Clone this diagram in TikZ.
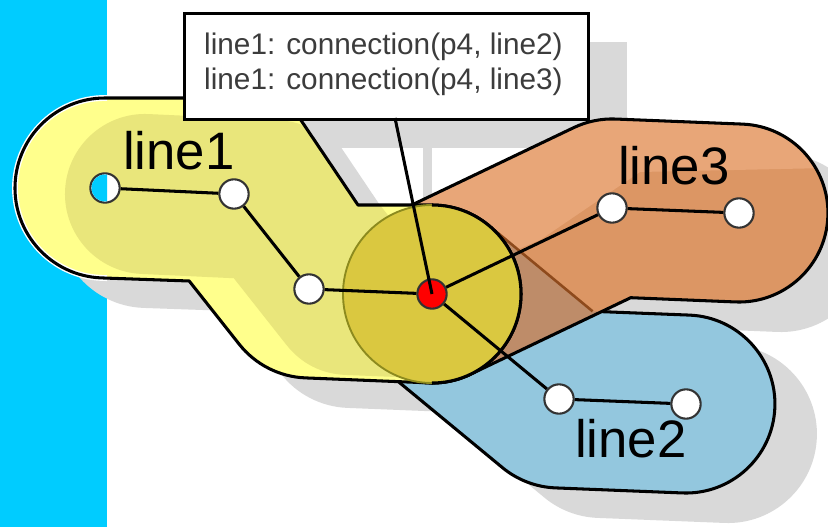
\documentclass[tikz,border=0pt]{standalone}
\usepackage{fontspec}
\setmainfont{Liberation Sans}
\definecolor{cyanbg}{HTML}{00CCFF}
\definecolor{shadowgray}{HTML}{D9D9D9}
\definecolor{ylight}{HTML}{FFFF8C}
\definecolor{ydark}{HTML}{E9E67B}
\definecolor{olivefill}{HTML}{DAC840}
\definecolor{oliveline}{HTML}{8C8A1E}
\definecolor{orangefill}{HTML}{DC9664}
\definecolor{orangelight}{HTML}{E8A678}
\definecolor{overlapbrown}{HTML}{BE8C69}
\definecolor{edgebrown}{HTML}{8E4A1C}
\definecolor{bluefill}{HTML}{93C7DE}
\definecolor{boxtext}{HTML}{3C3C3C}
\def\YelPath{(105,98) -- (286,98) -- (358,205) -- (432,205) arc[start angle=-90,end angle=90,radius=89] -- (305.4,377.9) arc[start angle=92.3,end angle=141.7,radius=89] -- (189.2,281) -- (100.9,277.9) arc[start angle=92.6,end angle=270,radius=90] -- cycle}
\def\OrgPath{(393.6,213.7) -- (573.6,127.7) arc[start angle=244.4,end angle=272.3,radius=89] -- (742.5,124.1) arc[start angle=-87.7,end angle=92.3,radius=89] -- (630.7,297.7) -- (470.4,374.3) arc[start angle=64.4,end angle=244.4,radius=89] -- cycle}
\def\BluPath{(488.7,225.4) -- (592.6,311.3) -- (689.5,315.1) arc[start angle=-87.7,end angle=92.3,radius=89] -- (555.5,487.9) arc[start angle=92.3,end angle=129.6,radius=89] -- (375.3,362.6) arc[start angle=129.6,end angle=309.6,radius=89] -- cycle}
\begin{document}
\begin{tikzpicture}[x=0.3mm,y=-0.3mm,
  outl/.style={draw=black,line width=2.6pt,line join=round},
  conn/.style={draw=black,line width=2.6pt},
  pt/.style={circle,draw=black!80,line width=1.8pt,fill=white,minimum size=8.8mm,inner sep=0pt},
  redpt/.style={pt,fill=red},
  lbl/.style={font=\fontsize{45}{54}\selectfont,text=black,inner sep=0pt,anchor=base west},
  boxtxt/.style={font=\fontsize{25.4}{30}\selectfont,text=boxtext,inner sep=0pt,anchor=base west},
  callout/.style={draw=black,line width=2.6pt,fill=white,minimum width=121.2mm,minimum height=31.8mm,inner sep=0pt,anchor=north west}]
\useasboundingbox (0,0) rectangle (828,527);
\fill[white] (0,0) rectangle (828,527);
\fill[cyanbg] (0,0) rectangle (107,527);
% shadows
\fill[shadowgray] (223,42) rectangle (627,148);
\fill[shadowgray] (423,146) rectangle (432,215);
\begin{scope}[shift={(42,30)}]
  \fill[shadowgray] \YelPath;
  \fill[shadowgray] \OrgPath;
  \fill[shadowgray] \BluPath;
\end{scope}
% blue buffer (line2)
\fill[bluefill] \BluPath;
\draw[outl] \BluPath;
% orange buffer (line3)
\fill[orangefill] \OrgPath;
\begin{scope}
  \clip \OrgPath;
  \fill[orangelight] (380,200) -- (600,100) -- (828,110) -- (828,168) -- (640,172) -- (540,240) -- (420,290) -- cycle;
  \fill[overlapbrown] \BluPath;
  \draw[edgebrown,line width=2.2pt] (488.7,225.4) -- (592.6,311.3);
\end{scope}
\draw[outl] \OrgPath;
% yellow buffer (line1)
\fill[ylight] \YelPath;
\begin{scope}
  \clip \YelPath;
  \draw[ydark,line width=136.6pt,line cap=round,line join=round,shift={(40,6)}] (105,188) -- (234,194) -- (309,289) -- (432,294);
\end{scope}
\begin{scope}
  \clip (0,0) rectangle (107,527);
  \draw[white,line width=5pt] \YelPath;
\end{scope}
\draw[outl] \YelPath;
% connection area around p4
\fill[olivefill] (432,294) circle[radius=89];
\draw[oliveline,line width=1.6pt] (432,205) arc[start angle=270,end angle=90,radius=89];
\draw[outl] (432,205) arc[start angle=-90,end angle=90,radius=89];
% points
\node[pt] (p1) at (105,188) {};
\node[pt] (p2) at (234,194) {};
\node[pt] (p3) at (309,289) {};
\node[redpt] (p4) at (432,294) {};
\node[pt] (q1) at (612,208) {};
\node[pt] (q2) at (739,213) {};
\node[pt] (r1) at (559,399) {};
\node[pt] (r2) at (686,404) {};
\begin{scope}
  \clip (0,0) rectangle (107,527);
  \fill[cyanbg] (p1.center) circle[radius=13.5];
\end{scope}
% connectors
\draw[conn] (p1) -- (p2);
\draw[conn] (p2) -- (p3);
\draw[conn] (p3) -- (p4);
\draw[conn] (p4) -- (q1);
\draw[conn] (q1) -- (q2);
\draw[conn] (p4) -- (r1);
\draw[conn] (r1) -- (r2);
% callout
\node[callout] (box) at (183,12) {};
\node[boxtxt] (t1) at (204,55) {line1: connection(p4, line2)};
\node[boxtxt] (t2) at (204,90) {line1: connection(p4, line3)};
\coordinate (ptrtop) at (395,118);
\draw[conn] (ptrtop) -- (p4.center);
% labels
\node[lbl] (l1) at (123,170) {line1};
\node[lbl] (l3) at (618,185) {line3};
\node[lbl] (l2) at (575,457) {line2};
\end{tikzpicture}
\end{document}
